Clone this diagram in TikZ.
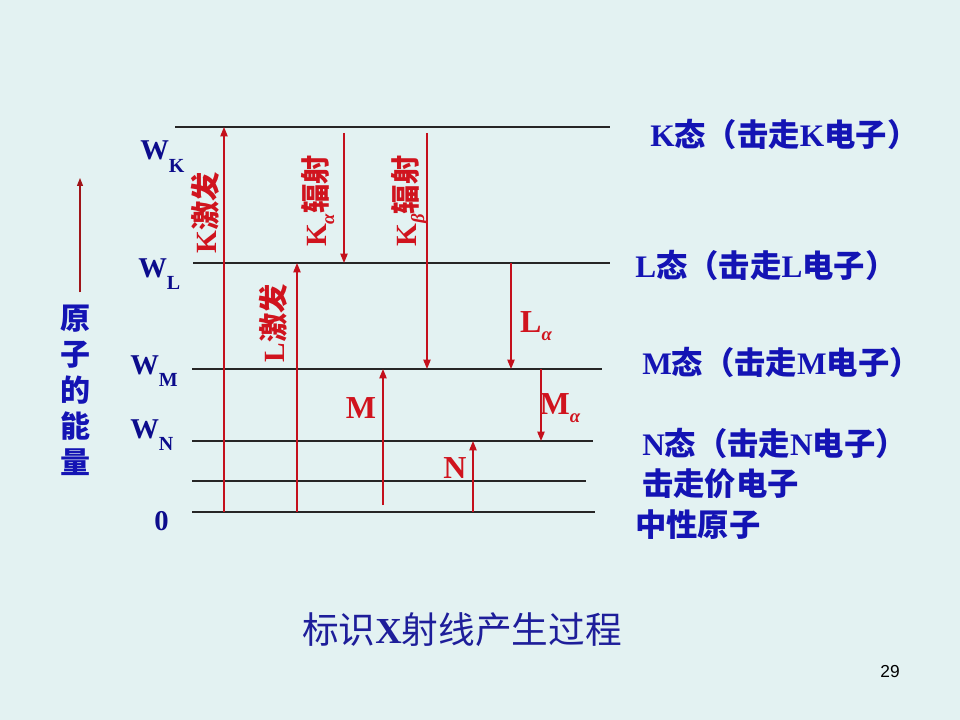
\documentclass[tikz,border=0pt]{standalone}
\usepackage{fontspec}
\setmainfont{Liberation Serif}
\newfontfamily\cjk{Noto Sans CJK SC}
\newfontfamily\pagefont{Liberation Sans}
\usetikzlibrary{arrows.meta}
\definecolor{slidebg}{HTML}{E3F2F2}
\definecolor{xred}{HTML}{D0141E}
\definecolor{xline}{HTML}{C4101C}
\definecolor{xblue}{HTML}{1414B4}
\definecolor{xnavy}{HTML}{0C0C8C}
\definecolor{xtitle}{HTML}{1E1E9A}
\definecolor{axisred}{HTML}{A01418}

\newcommand{\zh}[1]{{\cjk #1}}
\newcommand{\lev}[1]{W\raisebox{-0.42em}{\fontsize{15}{15}\selectfont #1}}
\newcommand{\lsub}[1]{\raisebox{-0.25em}{\fontsize{14}{14}\selectfont\itshape #1}}

\begin{document}
\begin{tikzpicture}[
    x=0.75pt, y=-0.75pt,
    level/.style={draw=black!85, line width=1.1pt},
    uparr/.style={draw=xline, line width=0.9pt, -{Triangle[length=7pt, width=5.5pt]}},
    redlab/.style={text=xred, font=\bfseries\fontsize{22}{24}\selectfont, inner sep=0pt},
    letlab/.style={text=xred, font=\bfseries\fontsize{24}{26}\selectfont, inner sep=0pt},
    wlab/.style={text=xnavy, font=\bfseries\fontsize{21.5}{24}\selectfont, inner sep=0pt, anchor=base west},
    state/.style={text=xblue, font=\bfseries\fontsize{23.5}{26}\selectfont, inner sep=0pt, anchor=west},
]

% Background
\fill[slidebg] (0,0) rectangle (960,720);

% Energy levels
\foreach \nm/\xa/\xb/\y in {wk/175/610/127, wl/193/610/263, wm/192/602/369,
                            wn/192/593/441, wv/192/586/481, wz/192/595/512} {
    \coordinate (\nm) at (0,\y);
    \draw[level] (\xa,\y) -- (\xb,\y);
}
\coordinate (ktop) at (0,133);
\coordinate (mbot) at (0,505);

% Arrow columns
\coordinate (ck) at (224,0);
\coordinate (ckalpha) at (344,0);
\coordinate (cl) at (297,0);
\coordinate (cm) at (383,0);
\coordinate (ckbeta) at (427,0);
\coordinate (cn) at (473,0);
\coordinate (clalpha) at (511,0);
\coordinate (cmalpha) at (541,0);

% Excitation (up)
\draw[uparr] (ck |- wz) -- (ck |- wk);
\draw[uparr] (cl |- wz) -- (cl |- wl);
\draw[uparr] (cm |- mbot) -- (cm |- wm);
\draw[uparr] (cn |- wz) -- (cn |- wn);

% Emission (down)
\draw[uparr] (ckalpha |- ktop) -- (ckalpha |- wl);
\draw[uparr] (ckbeta |- ktop) -- (ckbeta |- wm);
\draw[uparr] (clalpha |- wl) -- (clalpha |- wm);
\draw[uparr] (cmalpha |- wm) -- (cmalpha |- wn);

% Red labels
\node[redlab, rotate=90] (kexc) at (205,213) {K\zh{激发}};
\node[redlab, rotate=90] (kalab) at (318,201) {K\lsub{α}\zh{辐射}};
\node[redlab, rotate=90] (kblab) at (410,201) {K\lsub{β}\zh{辐射}};
\node[redlab, rotate=90] (lexc) at (273,323) {L\zh{激发}};
\node[letlab] (lalab) at (536,326) {L\lsub{α}};
\node[letlab] (mlab) at (361,408) {M};
\node[letlab] (malab) at (560,408) {M\lsub{α}};
\node[letlab] (nlab) at (455,468) {N};

% Level names
\node[wlab] (wkname) at (140,160) {\lev{K}};
\node[wlab] (wlname) at (138,277) {\lev{L}};
\node[wlab] (wmname) at (130,374) {\lev{M}};
\node[wlab] (wnname) at (130,438) {\lev{N}};
\node[wlab] (zname) at (154,530) {0};

% States
\node[state] (kstate) at (650,135) {K\zh{态（击走}K\zh{电子）}};
\node[state] (lstate) at (635,265) {L\zh{态（击走}L\zh{电子）}};
\node[state] (mstate) at (642,362) {M\zh{态（击走}M\zh{电子）}};
\node[state] (nstate) at (642,443) {N\zh{态（击走}N\zh{电子）}};
\node[state] (vstate) at (642,484) {\zh{击走价电子}};
\node[state] (zstate) at (635,525) {\zh{中性原子}};

% Energy axis
\node[text=xblue, font=\cjk\bfseries\fontsize{22.5}{27}\selectfont, align=center, inner sep=0pt]
    (axis) at (75,390) {原\\子\\的\\能\\量};
\coordinate (axtop) at (80,178);
\draw[axisred, line width=0.8pt, -{Triangle[length=6pt, width=4.5pt]}]
    (axis.north -| axtop) ++(0,-12) -- (axtop);

% Title and page number
\node[text=xtitle, font=\fontsize{27.5}{30}\selectfont, inner sep=0pt] (title) at (462,630)
    {\zh{标识}\textbf{X}\zh{射线产生过程}};
\node[font=\pagefont\fontsize{13}{15}\selectfont, inner sep=0pt] (page) at (890,672) {29};

\end{tikzpicture}
\end{document}
